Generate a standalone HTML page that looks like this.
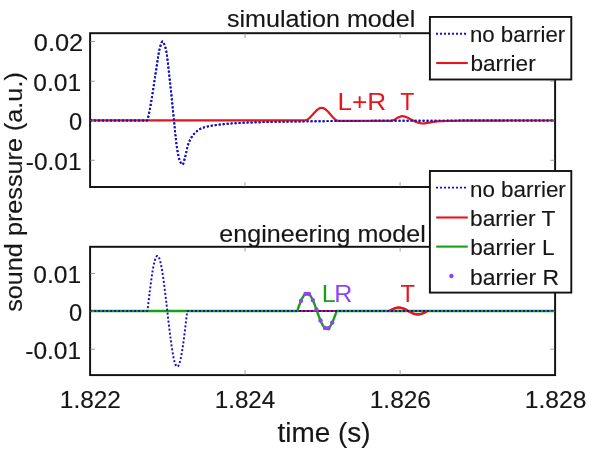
<!DOCTYPE html>
<html><head><meta charset="utf-8"><title>plot</title>
<style>html,body{margin:0;padding:0;background:#fff}svg{display:block}</style></head>
<body>
<svg width="600" height="450" viewBox="0 0 600 450" font-family="Liberation Sans, Arial, sans-serif" font-size="24px" fill="#1a1a1a">
<rect width="600" height="450" fill="#fff"/>
<text x="226.92" y="27.0" font-size="24.5px" fill="#161616" stroke="#161616" stroke-width="0.15" textLength="188.38" lengthAdjust="spacingAndGlyphs">simulation model</text><text x="219.34" y="241.6" font-size="24.5px" fill="#161616" stroke="#161616" stroke-width="0.15" textLength="206.44" lengthAdjust="spacingAndGlyphs">engineering model</text>
<path d="M90.10,120.40 L147.10,120.40 L147.60,119.96 L148.10,117.72 L148.60,115.40 L149.10,112.98 L149.60,110.48 L150.10,107.89 L150.60,105.20 L151.10,102.38 L151.60,99.39 L152.10,96.29 L152.60,93.08 L153.10,89.81 L153.60,86.49 L154.10,83.17 L154.60,79.87 L155.10,76.62 L155.60,73.44 L156.10,70.31 L156.60,67.00 L157.10,63.59 L157.60,60.20 L158.10,56.93 L158.60,53.89 L159.10,51.20 L159.60,48.95 L160.10,47.13 L160.60,45.34 L161.10,43.71 L161.60,42.42 L162.10,41.64 L162.60,41.54 L163.10,41.94 L163.60,42.72 L164.10,43.81 L164.60,45.13 L165.10,46.62 L165.60,48.20 L166.10,50.25 L166.60,53.10 L167.10,56.59 L167.60,60.58 L168.10,64.92 L168.60,69.45 L169.10,74.02 L169.60,78.48 L170.10,82.79 L170.60,87.31 L171.10,92.01 L171.60,96.86 L172.10,101.80 L172.60,106.76 L173.10,111.71 L173.60,116.59 L174.10,121.35 L174.60,126.34 L175.10,131.51 L175.60,136.61 L176.10,141.37 L176.60,145.51 L177.10,148.79 L177.60,151.63 L178.10,154.26 L178.60,156.62 L179.10,158.63 L179.60,160.25 L180.10,161.40 L180.60,162.36 L181.10,163.24 L181.60,163.95 L182.10,164.43 L182.60,164.60 L183.10,164.09 L183.60,162.77 L184.10,160.96 L184.60,158.98 L185.10,157.15 L185.60,155.17 L186.10,152.95 L186.60,150.63 L187.10,148.38 L187.60,146.36 L188.10,144.70 L188.60,143.28 L189.10,141.99 L189.60,140.82 L190.10,139.76 L190.60,138.82 L191.10,137.95 L191.60,137.14 L192.10,136.39 L192.60,135.69 L193.10,135.04 L193.60,134.45 L194.10,133.89 L194.60,133.36 L195.10,132.85 L195.60,132.35 L196.10,131.87 L196.60,131.41 L197.10,130.97 L197.60,130.56 L198.10,130.17 L198.60,129.82 L199.10,129.49 L199.60,129.21 L200.10,128.95 L200.60,128.72 L201.10,128.50 L201.60,128.29 L202.10,128.09 L202.60,127.90 L203.10,127.73 L203.60,127.56 L204.10,127.40 L204.60,127.25 L205.10,127.10 L205.60,126.97 L206.10,126.84 L206.60,126.71 L207.10,126.59 L207.60,126.48 L208.10,126.37 L208.60,126.26 L209.10,126.16 L209.60,126.06 L210.10,125.97 L210.60,125.88 L211.10,125.80 L211.60,125.71 L212.10,125.63 L213.10,125.48 L214.10,125.33 L215.10,125.19 L216.10,125.05 L217.10,124.91 L218.10,124.78 L219.10,124.65 L220.10,124.53 L221.10,124.41 L222.10,124.30 L223.10,124.19 L224.10,124.09 L225.10,123.99 L226.10,123.90 L227.10,123.81 L228.10,123.72 L229.10,123.63 L230.10,123.55 L231.10,123.48 L232.10,123.40 L233.10,123.33 L234.10,123.26 L235.60,123.16 L237.10,123.07 L238.60,122.97 L239.60,122.92 L240.60,122.86 L241.60,122.81 L242.60,122.76 L243.60,122.72 L245.10,122.66 L246.60,122.60 L248.10,122.54 L250.10,122.48 L252.10,122.41 L254.10,122.36 L256.60,122.29 L259.60,122.21 L262.60,122.14 L266.10,122.05 L269.60,121.98 L273.10,121.90 L276.60,121.84 L280.60,121.76 L284.60,121.69 L289.10,121.61 L294.60,121.53 L299.60,121.45 L304.10,121.39 L308.60,121.33 L312.60,121.28 L316.60,121.23 L321.10,121.19 L327.60,121.13 L333.60,121.08 L339.60,121.03 L345.10,120.99 L350.60,120.95 L355.60,120.92 L361.10,120.89 L368.60,120.86 L377.10,120.83 L387.10,120.80 L400.60,120.75 L422.10,120.69 L445.10,120.63 L456.10,120.60 L465.10,120.57 L473.10,120.56 L482.60,120.55 L504.10,120.53 L521.60,120.51 L536.60,120.50 L550.60,120.50 L555.10,120.50" fill="none" stroke="#1212c4" stroke-width="1.95" stroke-dasharray="2 2"/>
<path d="M90.10,120.30 L304.10,120.30 L304.60,120.30 L305.10,120.27 L305.60,120.19 L306.10,120.06 L306.60,119.88 L307.10,119.65 L307.60,119.37 L308.10,119.05 L308.60,118.68 L309.10,118.28 L309.60,117.84 L310.10,117.37 L310.60,116.87 L311.10,116.35 L311.60,115.81 L312.10,115.26 L312.60,114.70 L313.60,113.56 L314.10,113.00 L314.60,112.44 L315.10,111.90 L315.60,111.38 L316.10,110.88 L316.60,110.40 L317.10,109.96 L317.60,109.56 L318.10,109.19 L318.60,108.86 L319.10,108.58 L319.60,108.34 L320.10,108.16 L320.60,108.02 L321.10,107.93 L321.60,107.90 L322.10,107.92 L322.60,107.99 L323.10,108.11 L323.60,108.29 L324.10,108.51 L324.60,108.79 L325.10,109.10 L325.60,109.46 L326.10,109.87 L326.60,110.30 L327.10,110.78 L327.60,111.28 L328.10,111.80 L328.60,112.35 L329.10,112.92 L329.60,113.49 L330.10,114.08 L330.60,114.66 L331.10,115.25 L331.60,115.83 L332.10,116.39 L332.60,116.94 L333.10,117.47 L333.60,117.97 L334.10,118.45 L334.60,118.89 L335.10,119.30 L335.60,119.66 L336.10,119.98 L336.60,120.26 L337.10,120.49 L337.60,120.67 L338.10,120.80 L338.60,120.88 L339.10,120.90 L350.60,120.87 L360.10,120.85 L365.10,120.84 L376.60,120.83 L381.60,120.83 L385.60,120.82 L389.10,120.81 L390.10,120.80 L390.60,120.80 L391.10,120.76 L391.60,120.67 L392.10,120.55 L392.60,120.39 L393.10,120.22 L394.10,119.86 L394.60,119.64 L395.10,119.36 L395.60,119.04 L396.60,118.38 L397.10,118.06 L397.60,117.78 L398.10,117.56 L398.60,117.35 L399.10,117.13 L399.60,116.93 L400.10,116.73 L400.60,116.55 L401.10,116.40 L401.60,116.29 L402.10,116.22 L402.60,116.20 L403.10,116.23 L403.60,116.31 L404.10,116.42 L404.60,116.55 L405.10,116.71 L405.60,116.89 L406.10,117.07 L406.60,117.26 L407.10,117.44 L407.60,117.64 L408.10,117.89 L408.60,118.15 L409.10,118.43 L409.60,118.71 L410.10,118.99 L410.60,119.25 L412.10,120.02 L412.60,120.27 L413.10,120.52 L413.60,120.75 L414.10,120.99 L415.10,121.46 L415.60,121.69 L416.10,121.91 L416.60,122.12 L417.10,122.32 L417.60,122.48 L418.10,122.63 L419.10,122.90 L419.60,123.03 L420.10,123.15 L420.60,123.26 L421.10,123.35 L421.60,123.43 L422.10,123.48 L422.60,123.50 L423.10,123.49 L423.60,123.46 L424.10,123.42 L424.60,123.36 L425.10,123.29 L425.60,123.21 L426.10,123.12 L427.10,122.94 L427.60,122.86 L428.60,122.71 L429.10,122.62 L429.60,122.54 L431.60,122.18 L432.10,122.09 L432.60,122.00 L433.10,121.93 L433.60,121.85 L434.10,121.79 L435.10,121.66 L436.10,121.54 L436.60,121.48 L437.10,121.43 L437.60,121.38 L438.10,121.33 L438.60,121.29 L439.10,121.25 L439.60,121.22 L440.10,121.20 L441.10,121.15 L442.10,121.11 L443.10,121.08 L444.10,121.04 L445.60,121.00 L447.10,120.96 L448.60,120.92 L450.60,120.88 L453.60,120.82 L459.10,120.73 L461.60,120.69 L463.60,120.66 L465.10,120.64 L466.60,120.62 L468.10,120.61 L469.60,120.60 L479.10,120.58 L489.10,120.56 L499.60,120.54 L510.60,120.52 L522.10,120.51 L534.60,120.50 L548.10,120.50 L555.10,120.50" fill="none" stroke="#e8141c" stroke-width="2.2"/>
<path d="M90.10,120.40 L147.10,120.40 L147.60,119.96 L148.10,117.72 L148.60,115.40 L149.10,112.98 L149.60,110.48 L150.10,107.89 L150.60,105.20 L151.10,102.38 L151.60,99.39 L152.10,96.29 L152.60,93.08 L153.10,89.81 L153.60,86.49 L154.10,83.17 L154.60,79.87 L155.10,76.62 L155.60,73.44 L156.10,70.31 L156.60,67.00 L157.10,63.59 L157.60,60.20 L158.10,56.93 L158.60,53.89 L159.10,51.20 L159.60,48.95 L160.10,47.13 L160.60,45.34 L161.10,43.71 L161.60,42.42 L162.10,41.64 L162.60,41.54 L163.10,41.94 L163.60,42.72 L164.10,43.81 L164.60,45.13 L165.10,46.62 L165.60,48.20 L166.10,50.25 L166.60,53.10 L167.10,56.59 L167.60,60.58 L168.10,64.92 L168.60,69.45 L169.10,74.02 L169.60,78.48 L170.10,82.79 L170.60,87.31 L171.10,92.01 L171.60,96.86 L172.10,101.80 L172.60,106.76 L173.10,111.71 L173.60,116.59 L174.10,121.35 L174.60,126.34 L175.10,131.51 L175.60,136.61 L176.10,141.37 L176.60,145.51 L177.10,148.79 L177.60,151.63 L178.10,154.26 L178.60,156.62 L179.10,158.63 L179.60,160.25 L180.10,161.40 L180.60,162.36 L181.10,163.24 L181.60,163.95 L182.10,164.43 L182.60,164.60 L183.10,164.09 L183.60,162.77 L184.10,160.96 L184.60,158.98 L185.10,157.15 L185.60,155.17 L186.10,152.95 L186.60,150.63 L187.10,148.38 L187.60,146.36 L188.10,144.70 L188.60,143.28 L189.10,141.99 L189.60,140.82 L190.10,139.76 L190.60,138.82 L191.10,137.95 L191.60,137.14 L192.10,136.39 L192.60,135.69 L193.10,135.04 L193.60,134.45 L194.10,133.89 L194.60,133.36 L195.10,132.85 L195.60,132.35 L196.10,131.87 L196.60,131.41 L197.10,130.97 L197.60,130.56 L198.10,130.17 L198.60,129.82 L199.10,129.49 L199.60,129.21 L200.10,128.95 L200.60,128.72 L201.10,128.50 L201.60,128.29 L202.10,128.09 L202.60,127.90 L203.10,127.73 L203.60,127.56 L204.10,127.40 L204.60,127.25 L205.10,127.10 L205.60,126.97 L206.10,126.84 L206.60,126.71 L207.10,126.59 L207.60,126.48 L208.10,126.37 L208.60,126.26 L209.10,126.16 L209.60,126.06 L210.10,125.97 L210.60,125.88 L211.10,125.80 L211.60,125.71 L212.10,125.63 L213.10,125.48 L214.10,125.33 L215.10,125.19 L216.10,125.05 L217.10,124.91 L218.10,124.78 L219.10,124.65 L220.10,124.53 L221.10,124.41 L222.10,124.30 L223.10,124.19 L224.10,124.09 L225.10,123.99 L226.10,123.90 L227.10,123.81 L228.10,123.72 L229.10,123.63 L230.10,123.55 L231.10,123.48 L232.10,123.40 L233.10,123.33 L234.10,123.26 L235.60,123.16 L237.10,123.07 L238.60,122.97 L239.60,122.92 L240.60,122.86 L241.60,122.81 L242.60,122.76 L243.60,122.72 L245.10,122.66 L246.60,122.60 L248.10,122.54 L250.10,122.48 L252.10,122.41 L254.10,122.36 L256.60,122.29 L259.60,122.21 L262.60,122.14 L266.10,122.05 L269.60,121.98 L273.10,121.90 L276.60,121.84 L280.60,121.76 L284.60,121.69 L289.10,121.61 L294.60,121.53 L299.60,121.45 L304.10,121.39 L308.60,121.33 L312.60,121.28 L316.60,121.23 L321.10,121.19 L327.60,121.13 L333.60,121.08 L339.60,121.03 L345.10,120.99 L350.60,120.95 L355.60,120.92 L361.10,120.89 L368.60,120.86 L377.10,120.83 L387.10,120.80 L400.60,120.75 L422.10,120.69 L445.10,120.63 L456.10,120.60 L465.10,120.57 L473.10,120.56 L482.60,120.55 L504.10,120.53 L521.60,120.51 L536.60,120.50 L550.60,120.50 L555.10,120.50" fill="none" stroke="#1212c4" stroke-width="1.95" stroke-dasharray="2 2"/>
<path d="M90.10,311.00 L389.10,311.00 L389.60,310.83 L390.10,310.55 L390.60,310.27 L391.10,310.00 L391.60,309.74 L392.10,309.48 L392.60,309.24 L393.10,309.00 L393.60,308.78 L394.10,308.58 L394.60,308.39 L395.10,308.22 L395.60,308.06 L396.10,307.93 L396.60,307.82 L397.10,307.73 L397.60,307.67 L398.10,307.62 L398.60,307.60 L399.10,307.60 L399.60,307.63 L400.10,307.68 L400.60,307.75 L401.10,307.84 L401.60,307.96 L402.10,308.09 L402.60,308.25 L403.10,308.42 L403.60,308.62 L404.10,308.82 L404.60,309.05 L405.10,309.28 L405.60,309.53 L406.10,309.79 L406.60,310.06 L407.10,310.33 L407.60,310.61 L409.10,311.45 L409.60,311.73 L410.10,312.00 L410.60,312.26 L411.10,312.52 L411.60,312.76 L412.10,313.00 L412.60,313.22 L413.10,313.42 L413.60,313.61 L414.10,313.78 L414.60,313.94 L415.10,314.07 L415.60,314.18 L416.10,314.27 L416.60,314.33 L417.10,314.38 L417.60,314.40 L418.10,314.40 L418.60,314.37 L419.10,314.32 L419.60,314.25 L420.10,314.16 L420.60,314.04 L421.10,313.91 L421.60,313.75 L422.10,313.58 L422.60,313.38 L423.10,313.18 L423.60,312.95 L424.10,312.72 L424.60,312.47 L425.10,312.21 L425.60,311.94 L426.10,311.67 L426.60,311.39 L427.10,311.11 L427.60,311.00 L555.10,311.00" fill="none" stroke="#e8141c" stroke-width="2.2"/>
<path d="M90.10,311.00 L297.10,311.00 L297.60,309.87 L298.10,308.47 L298.60,307.09 L299.10,305.73 L299.60,304.41 L300.10,303.12 L300.60,301.89 L301.10,300.71 L301.60,299.60 L302.10,298.56 L302.60,297.60 L303.10,296.72 L303.60,295.94 L304.10,295.25 L304.60,294.65 L305.10,294.17 L305.60,293.78 L306.10,293.51 L306.60,293.35 L307.10,293.30 L307.60,293.36 L308.10,293.53 L308.60,293.82 L309.10,294.21 L309.60,294.71 L310.10,295.31 L310.60,296.01 L311.10,296.81 L311.60,297.69 L312.10,298.66 L312.60,299.71 L313.10,300.83 L313.60,302.01 L314.10,303.25 L314.60,304.54 L315.10,305.87 L315.60,307.23 L316.10,308.61 L316.60,310.02 L317.10,311.42 L317.60,312.83 L318.10,314.22 L318.60,315.59 L319.10,316.94 L319.60,318.24 L320.10,319.50 L320.60,320.71 L321.10,321.85 L321.60,322.93 L322.10,323.93 L322.60,324.85 L323.10,325.68 L323.60,326.42 L324.10,327.06 L324.60,327.60 L325.10,328.04 L325.60,328.37 L326.10,328.58 L326.60,328.69 L327.10,328.68 L327.60,328.57 L328.10,328.34 L328.60,328.00 L329.10,327.55 L329.60,327.00 L330.10,326.35 L330.60,325.60 L331.10,324.76 L331.60,323.84 L332.10,322.83 L332.60,321.74 L333.10,320.59 L333.60,319.38 L334.10,318.11 L334.60,316.80 L335.10,315.46 L335.60,314.08 L336.10,312.69 L336.60,311.28 L337.10,311.00 L555.10,311.00" fill="none" stroke="#16a016" stroke-width="2.4"/>
<path d="M389.3,311.0 389.60,310.83 L390.10,310.55 L390.60,310.27 L391.10,310.00 L391.60,309.74 L392.10,309.48 L392.60,309.24 L393.10,309.00 L393.60,308.78 L394.10,308.58 L394.60,308.39 L395.10,308.22 L395.60,308.06 L396.10,307.93 L396.60,307.82 L397.10,307.73 L397.60,307.67 L398.10,307.62 L398.60,307.60 L399.10,307.60 L399.60,307.63 L400.10,307.68 L400.60,307.75 L401.10,307.84 L401.60,307.96 L402.10,308.09 L402.60,308.25 L403.10,308.42 L403.60,308.62 L404.10,308.82 L404.60,309.05 L405.10,309.28 L405.60,309.53 L406.10,309.79 L406.60,310.06 L407.10,310.33 L407.60,310.61 L409.10,311.45 L409.60,311.73 L410.10,312.00 L410.60,312.26 L411.10,312.52 L411.60,312.76 L412.10,313.00 L412.60,313.22 L413.10,313.42 L413.60,313.61 L414.10,313.78 L414.60,313.94 L415.10,314.07 L415.60,314.18 L416.10,314.27 L416.60,314.33 L417.10,314.38 L417.60,314.40 L418.10,314.40 L418.60,314.37 L419.10,314.32 L419.60,314.25 L420.10,314.16 L420.60,314.04 L421.10,313.91 L421.60,313.75 L422.10,313.58 L422.60,313.38 L423.10,313.18 L423.60,312.95 L424.10,312.72 L424.60,312.47 L425.10,312.21 L425.60,311.94 L426.10,311.67 L426.60,311.39 L427.10,311.11" fill="none" stroke="#e8141c" stroke-width="2.2"/>
<path d="M90.10,311.00 L147.10,311.00 L147.60,310.12 L148.10,305.75 L148.60,301.41 L149.10,297.13 L149.60,292.94 L150.10,288.86 L150.60,284.93 L151.10,281.16 L151.60,277.57 L152.10,274.20 L152.60,271.06 L153.10,268.17 L153.60,265.55 L154.10,263.22 L154.60,261.19 L155.10,259.47 L155.60,258.07 L156.10,257.01 L156.60,256.29 L157.10,255.91 L157.60,255.88 L158.10,256.19 L158.60,256.85 L159.10,257.85 L159.60,259.18 L160.10,260.84 L160.60,262.82 L161.10,265.10 L161.60,267.66 L162.10,270.50 L162.60,273.60 L163.10,276.93 L163.60,280.47 L164.10,284.21 L164.60,288.12 L165.10,292.17 L165.60,296.34 L166.10,300.61 L166.60,304.94 L167.10,309.31 L167.60,313.69 L168.10,318.06 L168.60,322.38 L169.10,326.64 L169.60,330.80 L170.10,334.83 L170.60,338.72 L171.10,342.44 L171.60,345.96 L172.10,349.27 L172.60,352.33 L173.10,355.14 L173.60,357.68 L174.10,359.92 L174.60,361.86 L175.10,363.48 L175.60,364.78 L176.10,365.74 L176.60,366.36 L177.10,366.64 L177.60,366.56 L178.10,366.15 L178.60,365.38 L179.10,364.28 L179.60,362.85 L180.10,361.10 L180.60,359.03 L181.10,356.66 L181.60,354.01 L182.10,351.09 L182.60,347.93 L183.10,344.53 L183.60,340.92 L184.10,337.13 L184.60,333.18 L185.10,329.09 L185.60,324.89 L186.10,320.60 L186.60,316.25 L187.10,311.88 L187.60,311.00 L555.10,311.00" fill="none" stroke="#1212c4" stroke-width="1.95" stroke-dasharray="2 2"/>
<circle cx="301.1" cy="300.7" r="2.2" fill="#8e45ee"/>
<circle cx="305.5" cy="293.9" r="2.2" fill="#8e45ee"/>
<circle cx="308.9" cy="294.0" r="2.2" fill="#8e45ee"/>
<circle cx="312.8" cy="300.1" r="2.2" fill="#8e45ee"/>
<circle cx="316.4" cy="309.5" r="2.2" fill="#8e45ee"/>
<circle cx="320.5" cy="320.5" r="2.2" fill="#8e45ee"/>
<circle cx="325.0" cy="328.0" r="2.2" fill="#8e45ee"/>
<circle cx="328.3" cy="328.2" r="2.2" fill="#8e45ee"/>
<circle cx="332.2" cy="322.6" r="2.2" fill="#8e45ee"/>
<g fill="none" stroke="#111" stroke-width="1.95">
<rect x="90.1" y="33.2" width="465.0" height="153.8"/>
<rect x="90.1" y="246.8" width="465.0" height="128.3"/>
</g>
<g fill="none" stroke="#777" stroke-width="0.7"><path d="M245.0,187.0 v-4.8 M245.0,33.2 v4.8"/><path d="M400.1,187.0 v-4.8 M400.1,33.2 v4.8"/><path d="M90.1,41.5 h4.8 M555.1,41.5 h-4.8"/><path d="M90.1,81.2 h4.8 M555.1,81.2 h-4.8"/><path d="M90.1,120.8 h4.8 M555.1,120.8 h-4.8"/><path d="M90.1,160.3 h4.8 M555.1,160.3 h-4.8"/><path d="M245.0,375.1 v-4.8 M245.0,246.8 v4.8"/><path d="M400.1,375.1 v-4.8 M400.1,246.8 v4.8"/><path d="M90.1,273.5 h4.8 M555.1,273.5 h-4.8"/><path d="M90.1,311.3 h4.8 M555.1,311.3 h-4.8"/><path d="M90.1,349.2 h4.8 M555.1,349.2 h-4.8"/></g>
<text x="33.83" y="51.0" font-size="24.3px" fill="#161616" stroke="#161616" stroke-width="0.15" textLength="49.32" lengthAdjust="spacingAndGlyphs">0.02</text><text x="33.36" y="90.7" font-size="24.3px" fill="#161616" stroke="#161616" stroke-width="0.15" textLength="47.86" lengthAdjust="spacingAndGlyphs">0.01</text><text x="69.04" y="130.0" font-size="24.3px" fill="#161616" stroke="#161616" stroke-width="0.15" textLength="13.17" lengthAdjust="spacingAndGlyphs">0</text><text x="25.86" y="170.0" font-size="24.3px" fill="#161616" stroke="#161616" stroke-width="0.15" textLength="55.67" lengthAdjust="spacingAndGlyphs">-0.01</text><text x="33.36" y="283.0" font-size="24.3px" fill="#161616" stroke="#161616" stroke-width="0.15" textLength="47.86" lengthAdjust="spacingAndGlyphs">0.01</text><text x="69.04" y="320.6" font-size="24.3px" fill="#161616" stroke="#161616" stroke-width="0.15" textLength="13.17" lengthAdjust="spacingAndGlyphs">0</text><text x="25.22" y="359.0" font-size="24.3px" fill="#161616" stroke="#161616" stroke-width="0.15" textLength="55.89" lengthAdjust="spacingAndGlyphs">-0.01</text><text x="59.84" y="408.0" font-size="24.3px" fill="#161616" stroke="#161616" stroke-width="0.15" textLength="61.08" lengthAdjust="spacingAndGlyphs">1.822</text><text x="214.71" y="408.0" font-size="24.3px" fill="#161616" stroke="#161616" stroke-width="0.15" textLength="60.59" lengthAdjust="spacingAndGlyphs">1.824</text><text x="369.73" y="408.0" font-size="24.3px" fill="#161616" stroke="#161616" stroke-width="0.15" textLength="61.27" lengthAdjust="spacingAndGlyphs">1.826</text><text x="524.75" y="408.0" font-size="24.3px" fill="#161616" stroke="#161616" stroke-width="0.15" textLength="61.64" lengthAdjust="spacingAndGlyphs">1.828</text><text x="277.43" y="442.0" font-size="26.8px" fill="#161616" stroke="#161616" stroke-width="0.15" textLength="93.09" lengthAdjust="spacingAndGlyphs">time (s)</text><text x="337.45" y="110.0" font-size="24.5px" fill="#e8141c" textLength="48.81" lengthAdjust="spacingAndGlyphs">L+R</text><text x="400.36" y="110.0" font-size="24.5px" fill="#e8141c" textLength="14.13" lengthAdjust="spacingAndGlyphs">T</text><text x="321.79" y="302.0" font-size="24.5px" fill="#16a016" textLength="13.91" lengthAdjust="spacingAndGlyphs">L</text><text x="334.29" y="302.0" font-size="24.5px" fill="#8e45ee" textLength="18.11" lengthAdjust="spacingAndGlyphs">R</text><text x="400.51" y="302.0" font-size="24.5px" fill="#e8141c" textLength="14.49" lengthAdjust="spacingAndGlyphs">T</text><text transform="translate(22.2,311.8) rotate(-90)" font-size="24.8px" fill="#161616" stroke="#161616" stroke-width="0.15" textLength="239.6" lengthAdjust="spacingAndGlyphs">sound pressure (a.u.)</text>
<rect x="429.9" y="16.95" width="141.39999999999998" height="62.55" fill="#fff" stroke="#111" stroke-width="1.9"/><path d="M436,33.7 H466.8" stroke="#1212c4" stroke-width="1.95" stroke-dasharray="2 2"/><path d="M436.2,63 H467.8" stroke="#e8141c" stroke-width="2.1"/>
<rect x="429.9" y="171.0" width="141.39999999999998" height="121.60000000000002" fill="#fff" stroke="#111" stroke-width="1.9"/><path d="M436,187.6 H466.8" stroke="#1212c4" stroke-width="1.95" stroke-dasharray="2 2"/><path d="M436.2,217.5 H467.8" stroke="#e8141c" stroke-width="2.1"/><path d="M436.2,246.6 H467.8" stroke="#16a016" stroke-width="2.1"/><circle cx="451.4" cy="276" r="2.2" fill="#8e45ee"/>
<text x="469.93" y="42.4" font-size="22.4px" fill="#161616" stroke="#161616" stroke-width="0.15" textLength="95.29" lengthAdjust="spacingAndGlyphs">no barrier</text><text x="470.44" y="71.0" font-size="22.4px" fill="#161616" stroke="#161616" stroke-width="0.15" textLength="65.22" lengthAdjust="spacingAndGlyphs">barrier</text><text x="469.98" y="196.5" font-size="22.4px" fill="#161616" stroke="#161616" stroke-width="0.15" textLength="95.83" lengthAdjust="spacingAndGlyphs">no barrier</text><text x="470.05" y="226.0" font-size="22.4px" fill="#161616" stroke="#161616" stroke-width="0.15" textLength="85.22" lengthAdjust="spacingAndGlyphs">barrier T</text><text x="470.31" y="255.0" font-size="22.4px" fill="#161616" stroke="#161616" stroke-width="0.15" textLength="84.19" lengthAdjust="spacingAndGlyphs">barrier L</text><text x="469.93" y="284.5" font-size="22.4px" fill="#161616" stroke="#161616" stroke-width="0.15" textLength="89.03" lengthAdjust="spacingAndGlyphs">barrier R</text>
</svg>
</body></html>
